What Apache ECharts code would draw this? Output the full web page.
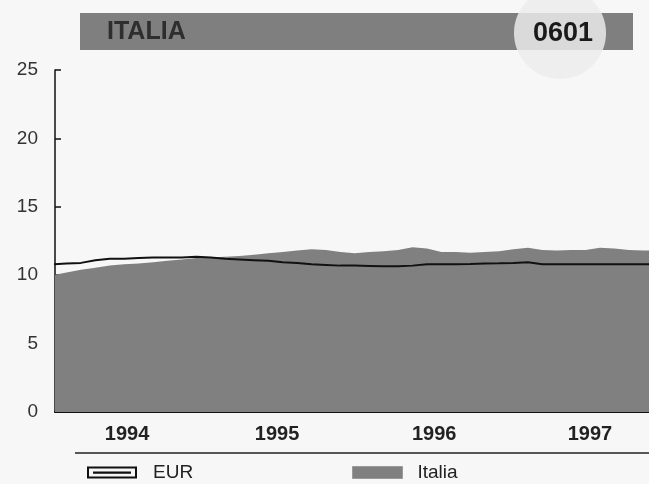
<!DOCTYPE html>
<html>
<head>
<meta charset="utf-8">
<script src="https://cdn.jsdelivr.net/npm/echarts@6/dist/echarts.min.js"></script>
<style>
html,body{margin:0;padding:0;background:#f7f7f7;}
#c{width:649px;height:484px;}
</style>
</head>
<body>
<div id="c"></div>
<script>
// months since Jan 1994
var months = [0,1,2,3,4,5,6,7,8,9,10,11,12,13,14,15,16,17,18,19,20,21,22,23,24,25,26,27,28,29,30,31,32,33,34,35,36,37,38,39,40,41,42];
var eurValues = [10.8,10.85,10.9,11.1,11.2,11.2,11.25,11.3,11.3,11.3,11.35,11.3,11.2,11.15,11.1,11.05,10.95,10.9,10.8,10.75,10.7,10.7,10.68,10.66,10.65,10.7,10.8,10.8,10.8,10.82,10.85,10.87,10.9,10.95,10.8,10.8,10.8,10.8,10.8,10.8,10.8,10.8,10.8];
var italiaValues = [10.0,10.2,10.4,10.55,10.7,10.8,10.85,10.95,11.05,11.15,11.25,11.3,11.35,11.4,11.5,11.6,11.7,11.8,11.9,11.85,11.7,11.6,11.7,11.75,11.85,12.05,11.95,11.7,11.7,11.65,11.7,11.75,11.9,12.0,11.85,11.8,11.85,11.85,12.0,11.95,11.85,11.8,11.8];
var yearLabels = ['1994','1995','1996','1997'];
var yearLabelPos = [5.2,15.6,26.5,37.3];
var yearTicks = [12,24,36];
var yTicks = ['0','5','10','15','20','25'];

function pairs(vals){ return months.map(function(m,i){ return [m, vals[i]]; }); }

// badge circle clipped to header bar (decoration)
var cx = 560, cy = 33, r = 46, barTop = 13, barBot = 50;
var chord = [];
for (var y = barTop; y <= barBot; y += 1) { var h = Math.sqrt(r*r-(y-cy)*(y-cy)); chord.push([cx+h, y]); }
for (var y2 = barBot; y2 >= barTop; y2 -= 1) { var h2 = Math.sqrt(r*r-(y2-cy)*(y2-cy)); chord.push([cx-h2, y2]); }

var chart = echarts.init(document.getElementById('c'), null, {renderer:'canvas'});
var font = 'Liberation Sans, Arial, Helvetica, sans-serif';
chart.setOption({
  backgroundColor:'#f7f7f7',
  animation:false,
  grid:{left:55,right:0,top:70,bottom:72,containLabel:false},
  xAxis:{
    type:'value', min:0.2, max:41.4,
    axisLine:{show:true,onZero:false,lineStyle:{color:'#111',width:2}},
    axisTick:{show:true,inside:true,length:5,customValues:yearTicks,lineStyle:{color:'#111',width:1.5}},
    splitLine:{show:false},
    axisLabel:{
      customValues:yearLabelPos, margin:12,
      fontFamily:font, fontSize:20, fontWeight:'bold', color:'#222',
      formatter:function(v){ var i = yearLabelPos.indexOf(v); return i>=0 ? yearLabels[i] : ''; }
    }
  },
  yAxis:{
    type:'value', min:0, max:25, interval:5,
    axisLine:{show:true,lineStyle:{color:'#111',width:1.5}},
    axisTick:{show:true,inside:true,length:6,lineStyle:{color:'#111',width:1.5}},
    splitLine:{show:false},
    axisLabel:{margin:17,fontFamily:font,fontSize:19,color:'#333',
      formatter:function(v){ return yTicks[Math.round(v/5)]; }}
  },
  legend:[
    {left:87,top:463,padding:0,itemWidth:50,itemHeight:12,symbolKeepAspect:false,
     textStyle:{fontFamily:font,fontSize:19,color:'#222',padding:[0,0,0,11]},
     data:[{name:'EUR',icon:'path://M0,0H50V12H0Z M2,2V10H48V2Z M6,5H44V7.2H6Z',itemStyle:{color:'#111',borderWidth:0}}]},
    {left:352,top:463,padding:0,itemWidth:50,itemHeight:12,
     textStyle:{fontFamily:font,fontSize:19,color:'#222',padding:[0,0,0,10]},
     data:[{name:'Italia',icon:'rect',itemStyle:{color:'#808080',borderColor:'#9a9a9a',borderWidth:1}}]}
  ],
  graphic:[
    {type:'circle',shape:{cx:cx,cy:cy,r:r},style:{fill:'#eeeeee'},z:0},
    {type:'rect',shape:{x:80,y:barTop,width:553,height:barBot-barTop},style:{fill:'#7f7f7f'},z:1},
    {type:'polygon',shape:{points:chord},style:{fill:'#dadada'},z:2},
    {type:'text',x:107,y:32,style:{text:'ITALIA',font:'bold 25px '+font,fill:'#2e2e2e',textVerticalAlign:'middle'},z:3},
    {type:'text',x:563,y:34,style:{text:'0601',font:'bold 27px '+font,fill:'#1a1a1a',textAlign:'center',textVerticalAlign:'middle'},z:3},
    {type:'line',shape:{x1:75,y1:453,x2:649,y2:453},style:{stroke:'#222',lineWidth:1.5},z:3}
  ],
  series:[
    {name:'Italia',type:'line',data:pairs(italiaValues),symbol:'none',
     lineStyle:{width:0,color:'#808080'},itemStyle:{color:'#808080'},
     areaStyle:{color:'#808080',opacity:1},z:1},
    {name:'EUR',type:'line',data:pairs(eurValues),symbol:'none',
     lineStyle:{width:2,color:'#111'},itemStyle:{color:'#111'},z:3}
  ]
});
</script>
</body>
</html>
